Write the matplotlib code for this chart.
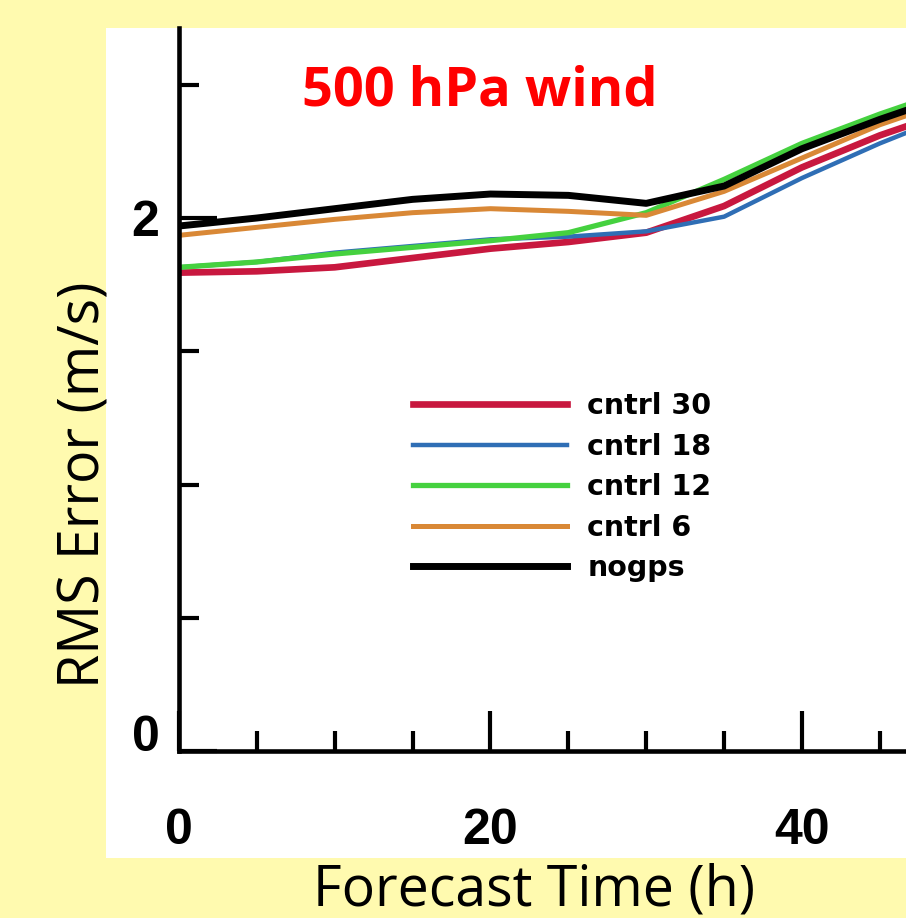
import matplotlib
matplotlib.use("Agg")
import matplotlib.pyplot as plt
from matplotlib.patches import Rectangle
from matplotlib.ticker import MultipleLocator

# forecast hour and RMS wind error (m/s)
hours = [0, 5, 10, 15, 20, 25, 30, 35, 40, 45, 48]
cntrl30 = [1.795, 1.80, 1.815, 1.85, 1.885, 1.91, 1.945, 2.045, 2.19, 2.31, 2.37]
cntrl18 = [1.815, 1.835, 1.87, 1.895, 1.92, 1.93, 1.95, 2.005, 2.15, 2.28, 2.35]
cntrl12 = [1.815, 1.835, 1.865, 1.89, 1.915, 1.945, 2.02, 2.145, 2.28, 2.39, 2.45]
cntrl6 = [1.935, 1.965, 1.995, 2.02, 2.035, 2.025, 2.01, 2.10, 2.225, 2.35, 2.41]
nogps = [1.97, 2.00, 2.035, 2.07, 2.09, 2.085, 2.055, 2.12, 2.26, 2.37, 2.43]

labels = ["cntrl 30", "cntrl 18", "cntrl 12", "cntrl 6", "nogps"]
colors = ["#C8183F", "#2F6EB5", "#45D13F", "#D98836", "#000000"]
widths = [4.8, 3.2, 3.8, 3.6, 5.0]

W, H = 906, 918
fig = plt.figure(figsize=(W / 100, H / 100), dpi=100)
fig.patch.set_facecolor("#FFFAAF")

# white panel behind the plot
fig.add_artist(Rectangle((106 / W, 1 - 858 / H), (W - 106) / W, (858 - 28) / H,
                         transform=fig.transFigure, facecolor="white",
                         edgecolor="none", zorder=0))

ax = fig.add_axes([179 / W, 1 - 751 / H, 1 - 179 / W, (751 - 28) / H])
ax.set_facecolor("none")

series = [cntrl30, cntrl18, cntrl12, cntrl6, nogps]
for vals, lab, col, lw in zip(series, labels, colors, widths):
    ax.plot(hours, vals, color=col, lw=lw, label=lab, solid_joinstyle="round")

ax.set_xlim(0, 46.68)
ax.set_ylim(0, 2.713)

for side in ["top", "right"]:
    ax.spines[side].set_visible(False)
for side in ["left", "bottom"]:
    ax.spines[side].set_linewidth(3.3)

ax.set_xticks([0, 20, 40])
ax.set_yticks([0, 2])
ax.xaxis.set_minor_locator(MultipleLocator(5))
ax.yaxis.set_minor_locator(MultipleLocator(0.5))
ax.tick_params(axis="x", which="major", direction="in", length=29, width=3, pad=41)
ax.tick_params(axis="y", which="major", direction="in", length=27, width=3, pad=14)
ax.tick_params(which="minor", direction="in", length=14.5, width=3)

for lab in ax.get_xticklabels() + ax.get_yticklabels():
    lab.set_fontfamily("Liberation Sans")
    lab.set_fontweight("bold")
    lab.set_fontsize(36)
# the "0" on the y axis sits just above the x axis line
ax.get_yticklabels()[0].set_verticalalignment("baseline")

leg = ax.legend(loc="upper left", bbox_to_anchor=(413 / W, 1 - 392 / H),
                bbox_transform=fig.transFigure, frameon=False,
                prop={"family": "DejaVu Sans", "weight": "bold", "size": 20.5},
                handlelength=5.4, handletextpad=0.72, labelspacing=0.44,
                borderpad=0, borderaxespad=0)

fig.text(302 / W, 1 - 105 / H, "500 hPa wind", ha="left", va="baseline",
         color="#FF0000", fontsize=39, fontweight="bold", family="Open Sans")
fig.text(534 / W, 1 - 905 / H, "Forecast Time (h)", ha="center", va="baseline",
         fontsize=40, family="Open Sans")
fig.text(85 / W, 1 - 485 / H, "RMS Error (m/s)", ha="center", va="center",
         rotation=90, fontsize=40, family="Open Sans")

fig.savefig("out.png", dpi=100, facecolor=fig.get_facecolor())
